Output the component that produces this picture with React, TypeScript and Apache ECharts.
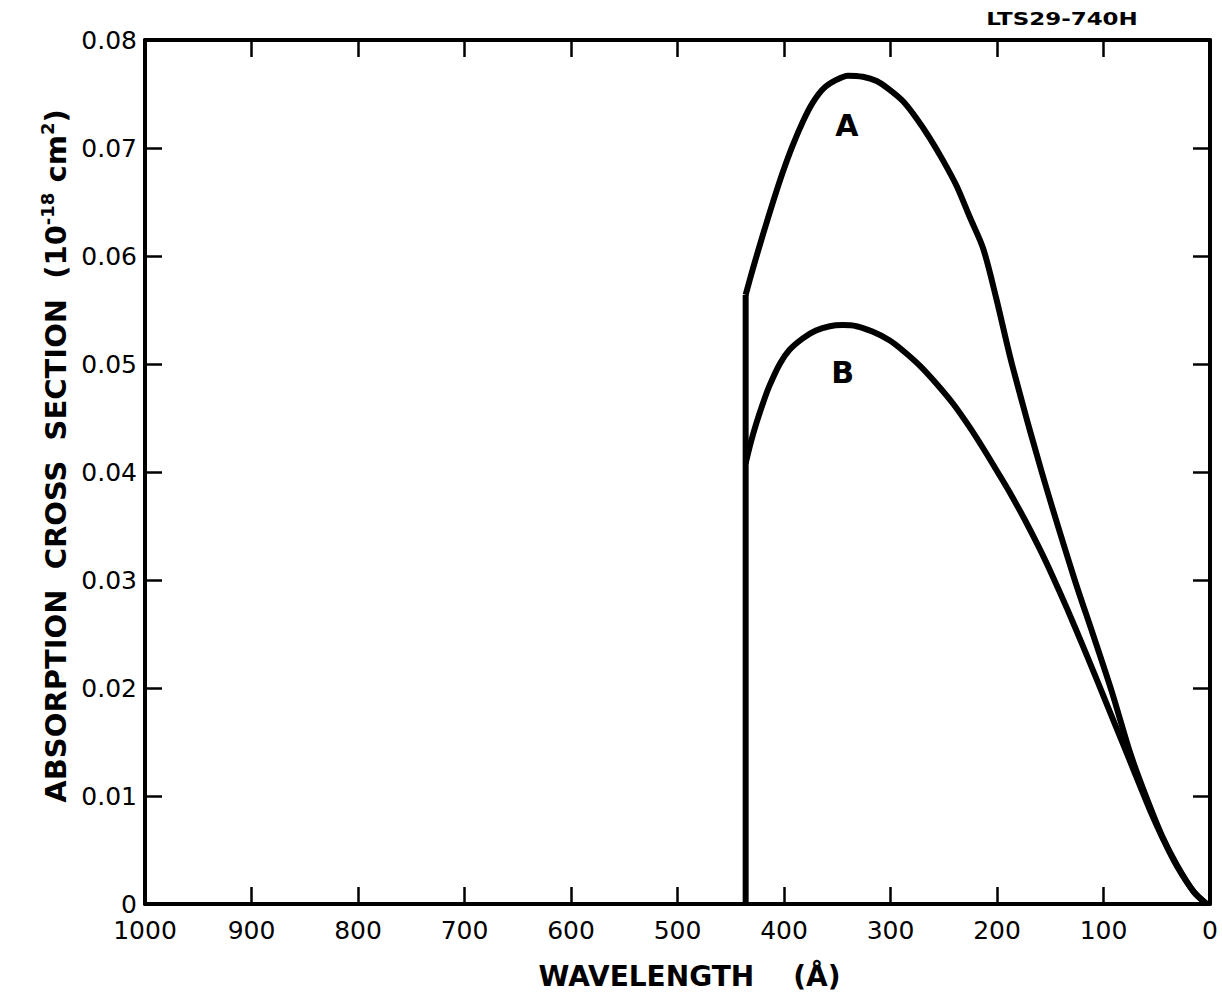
import React, { useEffect, useRef } from "react";
import * as echarts from "echarts";

// Cut-off edge (vertical segment) in Å and 10^-18 cm^2
const cutoffWavelength = [436, 436];
const cutoffValues = [0, 0.0564];

// Curve A
const wavelengthA = [436, 429, 420, 410, 401, 392, 382, 373, 363, 351, 340, 326, 313, 301, 288, 276, 263, 251, 238, 226, 213, 201, 186, 158, 127, 110, 92, 75, 61, 45, 31, 15, 3];
const sigmaA = [0.0564, 0.0589, 0.0619, 0.0651, 0.0678, 0.0702, 0.0725, 0.0742, 0.0755, 0.0763, 0.0767, 0.0766, 0.0762, 0.0754, 0.0743, 0.0728, 0.0709, 0.0689, 0.0665, 0.0637, 0.0607, 0.0562, 0.05, 0.04, 0.03, 0.025, 0.0196, 0.014, 0.0102, 0.0063, 0.0036, 0.0011, 0];

// Curve B
const wavelengthB = [436, 431, 426, 420, 414, 404, 395, 382, 370, 357, 345, 332, 317, 301, 289, 273, 257, 241, 226, 213, 197, 188, 174, 160, 148, 134, 119, 106, 94, 75, 66, 56, 44, 31, 15, 3];
const sigmaB = [0.0408, 0.0428, 0.0445, 0.0463, 0.0479, 0.05, 0.0513, 0.0524, 0.0531, 0.0535, 0.0536, 0.0535, 0.053, 0.0522, 0.0513, 0.0499, 0.0482, 0.0463, 0.0442, 0.0422, 0.0396, 0.0381, 0.0356, 0.0329, 0.0304, 0.0273, 0.0238, 0.0207, 0.0178, 0.0132, 0.011, 0.0086, 0.006, 0.0035, 0.0011, 0];

// Curve labels
const curveNames = ["A", "B"];
const labelPosA = [341, 0.0721];
const labelPosB = [345, 0.0492];

const FONT = "DejaVu Sans";

const zip = (xs: number[], ys: number[]) => xs.map((x, i) => [x, ys[i]]);

export default function App() {
  const ref = useRef<HTMLDivElement>(null);
  useEffect(() => {
    if (!ref.current) return;
    const chart = echarts.init(ref.current, null, { renderer: "svg" });
    const axisLine = { show: true, onZero: false, lineStyle: { color: "#000", width: 4 } };
    const tick = { show: true, inside: true, length: 17, lineStyle: { color: "#000", width: 2.5 } };
    const labelMark = (name: string, pos: number[]) => ({
      symbol: "circle",
      symbolSize: 0,
      silent: true,
      label: {
        show: true,
        position: "inside",
        formatter: name,
        color: "#000",
        fontFamily: FONT,
        fontWeight: "bold",
        fontSize: 30,
      },
      data: [{ coord: pos }],
    });
    chart.setOption({
      animation: false,
      backgroundColor: "#fff",
      grid: { left: 145, right: 12, top: 40, bottom: 104, containLabel: false },
      xAxis: [
        {
          type: "value",
          min: 0,
          max: 1000,
          interval: 100,
          inverse: true,
          position: "bottom",
          axisLine,
          axisTick: tick,
          splitLine: { show: false },
          axisLabel: { color: "#000", fontFamily: FONT, fontSize: 25, margin: 14, formatter: (v: number) => String(v) },
          name: "WAVELENGTH    (Å)",
          nameLocation: "middle",
          nameGap: 58,
          nameTextStyle: { color: "#000", fontFamily: FONT, fontWeight: "bold", fontSize: 28, padding: [0, 0, 0, 24] },
        },
        {
          type: "value",
          min: 0,
          max: 1000,
          interval: 100,
          inverse: true,
          position: "top",
          axisLine,
          axisTick: tick,
          splitLine: { show: false },
          axisLabel: { show: false },
        },
      ],
      yAxis: [
        {
          type: "value",
          min: 0,
          max: 0.08,
          interval: 0.01,
          position: "left",
          axisLine,
          axisTick: tick,
          splitLine: { show: false },
          axisLabel: {
            color: "#000",
            fontFamily: FONT,
            fontSize: 25,
            margin: 8,
            formatter: (v: number) => (v === 0 ? "0" : v.toFixed(2)),
          },
          name: "ABSORPTION  CROSS  SECTION  (10{sup|-18} cm{sup|2})",
          nameLocation: "middle",
          nameGap: 68,
          nameTextStyle: {
            color: "#000",
            fontFamily: FONT,
            fontWeight: "bold",
            fontSize: 29,
            padding: [0, 0, 0, 32],
            rich: {
              sup: { fontFamily: FONT, fontWeight: "bold", fontSize: 18, color: "#000", verticalAlign: "top", padding: [0, 0, 16, 0] },
            },
          },
        },
        {
          type: "value",
          min: 0,
          max: 0.08,
          interval: 0.01,
          position: "right",
          axisLine,
          axisTick: tick,
          splitLine: { show: false },
          axisLabel: { show: false },
        },
      ],
      series: [
        {
          type: "line",
          data: zip(cutoffWavelength, cutoffValues),
          showSymbol: false,
          symbol: "none",
          lineStyle: { color: "#000", width: 6 },
          silent: true,
        },
        {
          name: curveNames[0],
          type: "line",
          data: zip(wavelengthA, sigmaA),
          smooth: 0.3,
          symbol: "none",
          lineStyle: { color: "#000", width: 6, join: "round" },
          markPoint: labelMark(curveNames[0], labelPosA),
        },
        {
          name: curveNames[1],
          type: "line",
          data: zip(wavelengthB, sigmaB),
          smooth: 0.3,
          symbol: "none",
          lineStyle: { color: "#000", width: 6, join: "round" },
          markPoint: labelMark(curveNames[1], labelPosB),
        },
      ],
      graphic: [
        {
          type: "text",
          x: 1062,
          y: 19,
          scaleX: 1.35,
          style: {
            text: "LTS29-740H",
            fill: "#000",
            font: `bold 17px "${FONT}"`,
            textAlign: "center",
            textVerticalAlign: "middle",
          },
        },
      ],
    });
    return () => chart.dispose();
  }, []);
  return <div ref={ref} style={{ position: "absolute", left: 0, top: 0, width: 1222, height: 1008 }} />;
}
